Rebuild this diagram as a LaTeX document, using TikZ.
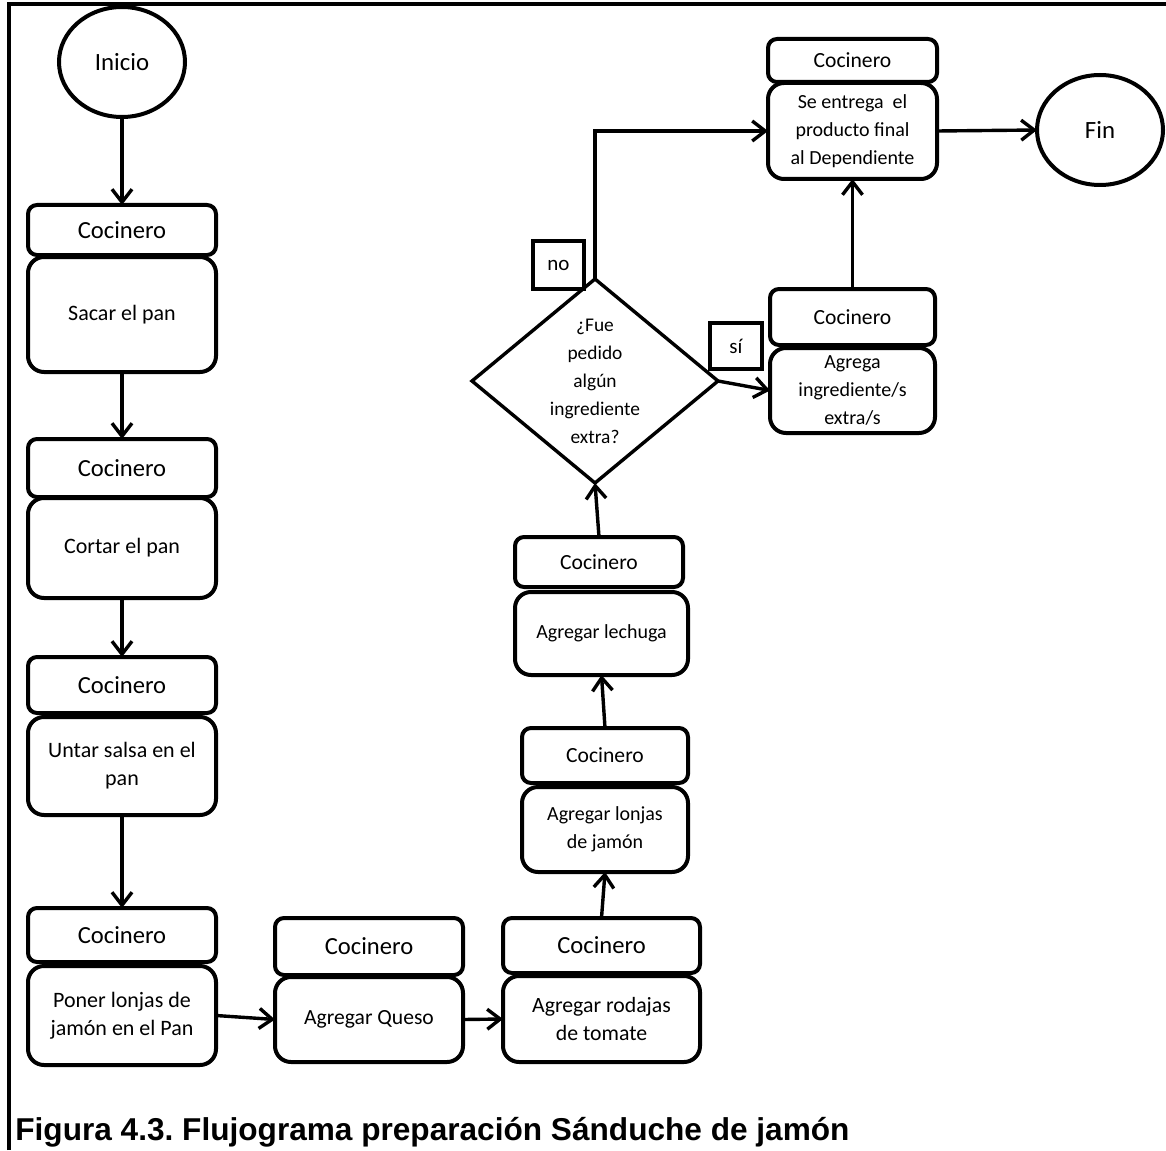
\documentclass[tikz,border=0pt]{standalone}
\usepackage{fontspec}
\setmainfont{Carlito}
\newfontfamily\capfont{Liberation Sans}
\usetikzlibrary{arrows.meta,shapes.geometric}
\newcommand\fsz[1]{\fontsize{#1}{14}\selectfont}
\frenchspacing

\begin{document}
\begin{tikzpicture}[x=0.5pt,y=-0.5pt,
  hdr/.style={draw, line width=2pt, rounded corners=4.5pt, inner sep=0pt, outer sep=0pt, align=center},
  bodybox/.style={draw, line width=2pt, rounded corners=8pt, inner sep=0pt, outer sep=0pt, align=center},
  term/.style={draw, ellipse, line width=2pt, minimum width=63pt, minimum height=55pt, inner sep=0pt, outer sep=0pt, font=\fsz{12.4}},
  decision/.style={draw, diamond, line width=1.7pt, minimum width=123pt, minimum height=102pt, inner sep=0pt, outer sep=0pt},
  tagbox/.style={draw, line width=1.7pt, inner sep=0pt, outer sep=0pt, font=\fsz{10.5}},
  conn/.style={line width=1.7pt, -{Straight Barb[length=6.5pt,width=10pt]}},
]
\useasboundingbox (0,0) rectangle (1166,1150);

% page frame (top and left rules)
\draw[line width=2pt] (9,1150) -- (9,4.5) -- (1166,4.5);

% start
\node[term] (ini) at (122,62) {Inicio};

% left column
\node[hdr, minimum width=94pt, minimum height=25pt, font=\fsz{12.3}] (h1) at (122,230) {Cocinero};
\node[bodybox, minimum width=94pt, minimum height=57.5pt, font=\fsz{11}] (b1) at (122,314.5) {Sacar el pan};
\node[hdr, minimum width=94pt, minimum height=29pt, font=\fsz{12.3}] (h2) at (122,468) {Cocinero};
\node[bodybox, minimum width=94pt, minimum height=50pt, font=\fsz{11}] (b2) at (122,548) {Cortar el pan};
\node[hdr, minimum width=94pt, minimum height=28pt, font=\fsz{12.3}] (h3) at (122,685) {Cocinero};
\node[bodybox, minimum width=94pt, minimum height=49pt, font=\fsz{11}] (b3) at (122,766) {Untar salsa en el\\pan};
\node[hdr, minimum width=94pt, minimum height=27pt, font=\fsz{12.3}] (h4) at (122,935) {Cocinero};
\node[bodybox, minimum width=94pt, minimum height=49.5pt, font=\fsz{11}] (b4) at (122,1015.5) {Poner lonjas de\\jamón en el Pan};

% bottom row
\node[hdr, minimum width=94pt, minimum height=28.5pt, font=\fsz{12.3}] (hq) at (369,946.5) {Cocinero};
\node[bodybox, minimum width=94pt, minimum height=42.5pt, font=\fsz{10.8}] (bq) at (369,1019.5) {Agregar Queso};
\node[hdr, minimum width=98.5pt, minimum height=27.5pt, font=\fsz{12.3}] (hr) at (601.5,945.5) {Cocinero};
\node[bodybox, minimum width=98.5pt, minimum height=43pt, font=\fsz{10.9}] (br) at (601.5,1019) {Agregar rodajas\\de tomate};

% middle column going up
\node[hdr, minimum width=83pt, minimum height=27.5pt, font=\fsz{10.8}] (hj) at (605,755.5) {Cocinero};
\node[bodybox, minimum width=83pt, minimum height=42.5pt, font=\fsz{10}] (bj) at (605,829.5) {Agregar lonjas\\de jamón};
\node[hdr, minimum width=84pt, minimum height=25pt, font=\fsz{10.8}] (hl) at (599,562) {Cocinero};
\node[bodybox, minimum width=86.5pt, minimum height=41.5pt, font=\fsz{10}] (bl) at (601.5,633.5) {Agregar lechuga};

% decision
\node[decision] (dec) at (595,381) {};
\node[align=center, inner sep=0pt, font=\fsz{9.7}] (dectxt) at (dec.center) {¿Fue\\pedido\\algún\\ingrediente\\extra?};
\node[tagbox, minimum width=25.5pt, minimum height=24pt] (tno) at (558.5,265) {no};
\node[tagbox, minimum width=26pt, minimum height=23pt] (tsi) at (736,346) {sí};

% right column
\node[hdr, minimum width=82.5pt, minimum height=28pt, font=\fsz{10.8}] (ha) at (852.5,317) {Cocinero};
\node[bodybox, minimum width=82.5pt, minimum height=42.5pt, font=\fsz{10}] (ba) at (852.5,390.5) {Agrega\\ingrediente/s\\extra/s};
\node[hdr, minimum width=84.5pt, minimum height=21.5pt, font=\fsz{10.8}] (hs) at (852.5,60.5) {Cocinero};
\node[bodybox, minimum width=84.5pt, minimum height=48pt, font=\fsz{10}] (bs) at (852.5,131) {Se entrega\ \ el\\producto final\\al Dependiente};

% end
\node[term] (fin) at (1100,130) {Fin};

% connectors
\draw[conn] (ini.south) -- (h1.north);
\draw[conn] (b1.south) -- (h2.north);
\draw[conn] (b2.south) -- (h3.north);
\draw[conn] (b3.south) -- (h4.north);
\draw[conn] (b4.east) -- (bq.west);
\draw[conn] (bq.east) -- (br.west);
\draw[conn] (hr.north) -- (bj.south);
\draw[conn] (hj.north) -- (bl.south);
\draw[conn] (hl.north) -- (dec.south);
\draw[conn] (dec.north) |- (bs.west);
\draw[conn] (dec.east) -- (ba.west);
\draw[conn] (ha.north) -- (bs.south);
\draw[conn] (bs.east) -- (fin.west);

% caption
\node[anchor=base west, inner sep=0pt, font=\capfont\bfseries\fontsize{15.8}{18}\selectfont] (cap) at (15,1140) {Figura 4.3. Flujograma preparación Sánduche de jamón};
\end{tikzpicture}
\end{document}
